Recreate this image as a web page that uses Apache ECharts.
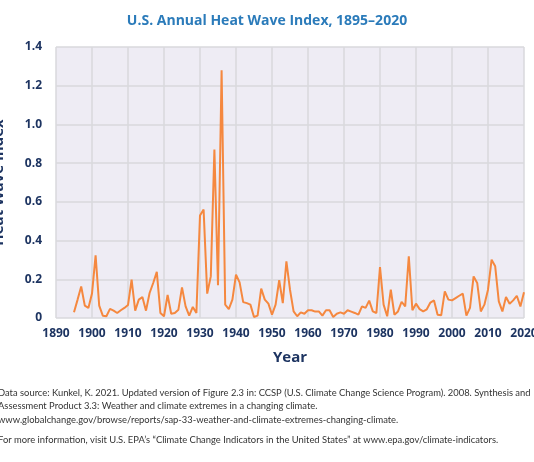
<!DOCTYPE html>
<html>
<head>
<meta charset="utf-8">
<script src="https://cdn.jsdelivr.net/npm/echarts@6/dist/echarts.min.js"></script>
<style>
html,body{margin:0;padding:0;background:#fff;}
#chart{width:534px;height:462px;}
</style>
</head>
<body>
<div id="chart"></div>
<script>
// Data
const titleText = 'U.S. Annual Heat Wave Index, 1895\u20132020';
const xAxisName = 'Year';
const yAxisName = 'Heat Wave Index';
const firstYear = 1895;
const heatWaveIndex = [
  // 1895-1899
  0.030, 0.095, 0.163, 0.064, 0.052,
  // 1900s
  0.126, 0.324, 0.064, 0.012, 0.009, 0.047, 0.038, 0.026, 0.040, 0.052,
  // 1910s
  0.067, 0.198, 0.038, 0.095, 0.108, 0.038, 0.129, 0.181, 0.238, 0.026,
  // 1920s
  0.009, 0.119, 0.022, 0.026, 0.043, 0.158, 0.060, 0.012, 0.057, 0.026,
  // 1930s
  0.529, 0.560, 0.126, 0.215, 0.870, 0.169, 1.280, 0.069, 0.046, 0.095,
  // 1940s
  0.224, 0.184, 0.082, 0.077, 0.069, 0.005, 0.012, 0.152, 0.095, 0.074,
  // 1950s
  0.017, 0.069, 0.195, 0.077, 0.293, 0.146, 0.034, 0.009, 0.029, 0.022,
  // 1960s
  0.040, 0.040, 0.033, 0.034, 0.012, 0.040, 0.040, 0.005, 0.022, 0.029,
  // 1970s
  0.022, 0.040, 0.033, 0.026, 0.017, 0.060, 0.052, 0.090, 0.034, 0.026,
  // 1980s
  0.263, 0.069, 0.009, 0.146, 0.017, 0.034, 0.084, 0.060, 0.319, 0.040,
  // 1990s
  0.074, 0.046, 0.034, 0.045, 0.080, 0.091, 0.017, 0.014, 0.138, 0.095,
  // 2000s
  0.091, 0.103, 0.115, 0.126, 0.012, 0.052, 0.215, 0.181, 0.034, 0.069,
  // 2010s
  0.146, 0.301, 0.267, 0.086, 0.034, 0.108, 0.074, 0.091, 0.115, 0.060,
  // 2020
  0.133
];
const xMin = 1890, xMax = 2020, xStep = 10;
const yMin = 0, yMax = 1.4, yStep = 0.2;
const footnoteLines = [
  'Data source: Kunkel, K. 2021. Updated version of Figure 2.3 in: CCSP (U.S. Climate Change Science Program). 2008. Synthesis and',
  'Assessment Product 3.3: Weather and climate extremes in a changing climate.',
  'www.globalchange.gov/browse/reports/sap-33-weather-and-climate-extremes-changing-climate.'
];
const footnoteMore = 'For more information, visit U.S. EPA\u2019s \u201cClimate Change Indicators in the United States\u201d at www.epa.gov/climate-indicators.';

const seriesData = heatWaveIndex.map((v, i) => [firstYear + i, v]);

const navy = '#1d3461';
const chart = echarts.init(document.getElementById('chart'));
chart.setOption({
  animation: false,
  backgroundColor: '#ffffff',
  title: {
    text: titleText,
    left: 'center',
    top: 9,
    textStyle: { color: '#2b7bba', fontSize: 14, fontWeight: 'bold', fontFamily: 'Open Sans' }
  },
  grid: { left: 56, right: 10, top: 47, bottom: 144, show: true, backgroundColor: '#eeecf4', borderWidth: 0,
    containLabel: false, outerBoundsMode: 'none' },
  xAxis: {
    type: 'value', min: xMin, max: xMax, interval: xStep,
    name: xAxisName, nameLocation: 'middle', nameGap: 32,
    nameTextStyle: { color: navy, fontSize: 15, fontWeight: 'bold', fontFamily: 'Open Sans' },
    axisLine: { show: false }, axisTick: { show: false },
    axisLabel: { color: navy, fontSize: 12, fontWeight: 'bold', fontFamily: 'Open Sans', margin: 10,
      formatter: v => String(v) },
    splitLine: { show: true, lineStyle: { color: '#d9d8dc', width: 1.5 } }
  },
  yAxis: {
    type: 'value', min: yMin, max: yMax, interval: yStep,
    name: yAxisName, nameLocation: 'middle', nameGap: 50, nameRotate: 90,
    nameTextStyle: { color: navy, fontSize: 15, fontWeight: 'bold', fontFamily: 'Open Sans' },
    axisLine: { show: false }, axisTick: { show: false },
    axisLabel: { color: navy, fontSize: 12, fontWeight: 'bold', fontFamily: 'Open Sans', margin: 14,
      formatter: v => v === 0 ? '0' : v.toFixed(1) },
    splitLine: { show: true, lineStyle: { color: '#d9d8dc', width: 1.5 } }
  },
  graphic: [
    { type: 'text', left: -2, top: 386, style: { text: footnoteLines.join('\n'), fill: '#333333', fontSize: 9.4, lineHeight: 13.5, fontFamily: 'Lato' } },
    { type: 'text', left: -2, top: 435, style: { text: footnoteMore, fill: '#333333', fontSize: 9.4, fontFamily: 'Lato' } }
  ],
  series: [{
    type: 'line',
    data: seriesData,
    showSymbol: false,
    lineStyle: { color: '#f5883f', width: 2 },
    itemStyle: { color: '#f5883f' }
  }]
});
</script>
</body>
</html>
